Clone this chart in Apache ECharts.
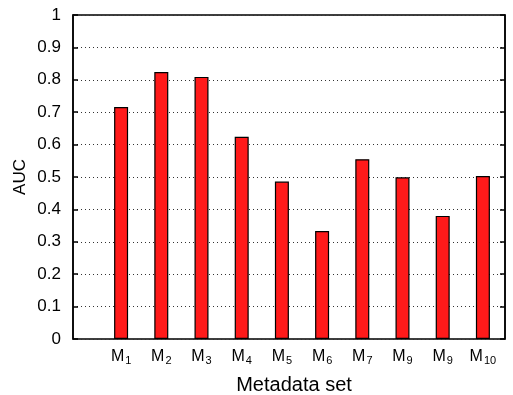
<!DOCTYPE html>
<html>
<head>
<meta charset="utf-8">
<script src="https://cdn.jsdelivr.net/npm/echarts@6/dist/echarts.min.js"></script>
<style>
  html, body { margin: 0; padding: 0; background: #fff; }
  #chart { width: 513px; height: 395px; }
</style>
</head>
<body>
<div id="chart"></div>
<script>
// Metadata sets (base letter + subscript) and their AUC values
const setNames = ['M', 'M', 'M', 'M', 'M', 'M', 'M', 'M', 'M', 'M'];
const setSubscripts = ['1', '2', '3', '4', '5', '6', '7', '9', '9', '10'];
const aucValues = [0.716, 0.824, 0.809, 0.624, 0.486, 0.333, 0.555, 0.499, 0.380, 0.503];
const yTicks = [0, 0.1, 0.2, 0.3, 0.4, 0.5, 0.6, 0.7, 0.8, 0.9, 1];

const categories = setNames.map((n, i) => n + '_' + setSubscripts[i]);
const FONT = '"Liberation Sans", Arial, Helvetica, sans-serif';
const NARROW = '"Liberation Sans Narrow", "Liberation Sans", Arial, sans-serif';

const chart = echarts.init(document.getElementById('chart'), null, { renderer: 'canvas' });

chart.setOption({
  animation: false,
  backgroundColor: '#fff',
  grid: [
    // frame with y scale and dotted guides
    { left: 73, right: 8, top: 15, bottom: 56, outerBoundsMode: 'none', containLabel: false,
      show: true, borderColor: '#000', borderWidth: 1.5, backgroundColor: 'transparent' },
    // band where the bars sit
    { left: 101, width: 402, top: 15, bottom: 56, outerBoundsMode: 'none', containLabel: false }
  ],
  xAxis: [
    { gridIndex: 0, type: 'value', min: 0, max: 1, show: false },
    {
      gridIndex: 1, type: 'category', data: categories,
      axisLine: { show: false }, axisTick: { show: false },
      name: 'Metadata set', nameLocation: 'middle', nameGap: 36,
      nameTextStyle: { fontFamily: FONT, fontSize: 20, color: '#000', padding: [0, 16, 0, 0] },
      axisLabel: {
        interval: 0, margin: 9,
        fontFamily: FONT, fontSize: 16, color: '#000',
        formatter: (v) => {
          const [m, s] = v.split('_');
          return '{m|' + m + '}{s|' + s + '}';
        },
        rich: {
          m: { fontFamily: FONT, fontSize: 16, color: '#000', lineHeight: 18 },
          s: { fontFamily: FONT, fontSize: 11, color: '#000', lineHeight: 18, verticalAlign: 'bottom', padding: [6, 0, 0, 1] }
        }
      }
    }
  ],
  yAxis: [
    {
      gridIndex: 0, type: 'value', min: 0, max: 1, interval: 0.1,
      name: 'AUC', nameLocation: 'middle', nameGap: 44, nameMoveOverlap: false,
      nameTextStyle: { fontFamily: FONT, fontSize: 17, color: '#000' },
      axisLine: { show: true, lineStyle: { color: '#000', width: 1.5 } },
      axisTick: { show: true, inside: true, length: 5, lineStyle: { color: '#000', width: 1.5 } },
      axisLabel: {
        fontFamily: NARROW, fontSize: 17, color: '#000', margin: 12,
        formatter: (v) => {
          const t = yTicks.find(k => Math.abs(k - v) < 1e-6);
          return t === undefined ? '' : String(t);
        }
      },
      splitLine: { show: true, lineStyle: { color: '#333', type: [1, 3], width: 1 } }
    },
    {
      gridIndex: 0, type: 'value', min: 0, max: 1, interval: 0.1, position: 'right',
      axisLine: { show: true, lineStyle: { color: '#000', width: 1.5 } },
      axisTick: { show: true, inside: true, length: 5, lineStyle: { color: '#000', width: 1.5 } },
      axisLabel: { show: false }, splitLine: { show: false }
    },
    { gridIndex: 1, type: 'value', min: 0, max: 1, show: false }
  ],
  series: [
    {
      type: 'bar', xAxisIndex: 1, yAxisIndex: 2,
      data: aucValues, barWidth: 14,
      itemStyle: { color: '#ff1a1a', borderColor: '#000', borderWidth: 1.2 }
    }
  ]
});
</script>
</body>
</html>
